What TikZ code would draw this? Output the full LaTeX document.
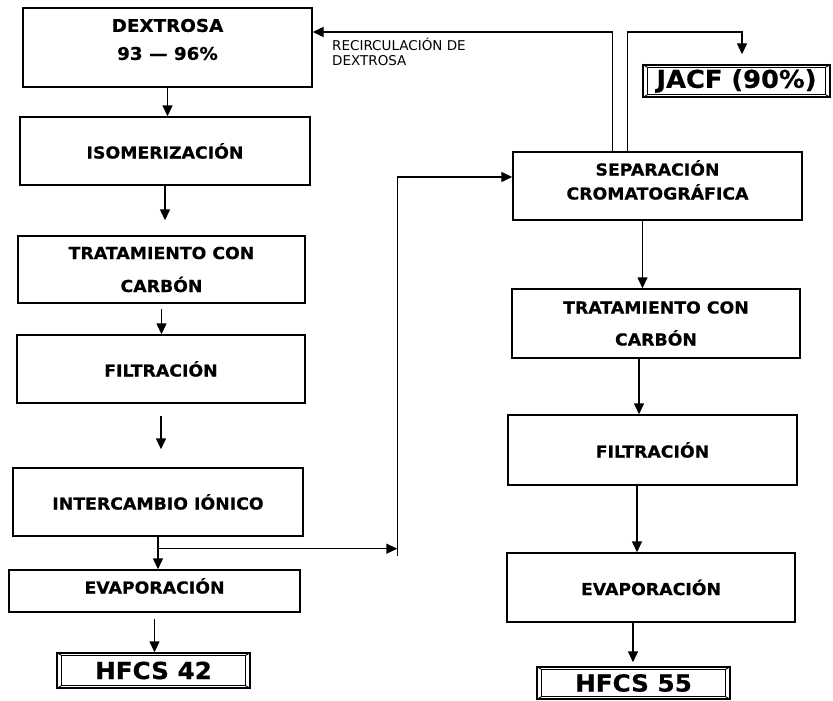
\documentclass[tikz,border=0pt]{standalone}
\usepackage{fontspec}
\setmainfont{DejaVu Sans}
\newfontfamily\heavy{DejaVu Sans Bold}[FakeBold=0.6,FakeStretch=1.05]
\usetikzlibrary{arrows.meta,calc}
\newcommand\dframe[1]{%
  \draw[line width=1.1pt] ([shift={(5,3)}]#1.north west) rectangle ([shift={(-5,-3)}]#1.south east);
  \draw[line width=0.9pt] (#1.north west) -- ([shift={(5,3)}]#1.north west)
    (#1.north east) -- ([shift={(-5,3)}]#1.north east)
    (#1.south west) -- ([shift={(5,-3)}]#1.south west)
    (#1.south east) -- ([shift={(-5,-3)}]#1.south east);}
\begin{document}
\begin{tikzpicture}[x=1pt,y=-1pt,
  box/.style={draw, line width=1.4pt, inner sep=0pt, align=center,
    font=\heavy\fontsize{16.5}{28}\selectfont},
  txt/.style={inner sep=0pt, align=center, font=\heavy\fontsize{16.5}{28}\selectfont},
  prod/.style={draw, line width=1.4pt, inner sep=0pt, align=center,
    font=\heavy\fontsize{23.5}{24}\selectfont},
  arr/.style={line width=1.4pt, -{Triangle[length=11pt,width=10pt]}},
  ln/.style={line width=1.4pt}]
\useasboundingbox (0,0) rectangle (833,701);
% left column
\node[box, minimum width=289pt, minimum height=79pt] (dex) at (167.5,47.5) {};
\node[txt, font=\heavy\fontsize{17.5}{28}\selectfont] (dexT) at ($(dex.center)+(0,-8)$) {DEXTROSA\\93 — 96\%};
\node[box, minimum width=290pt, minimum height=68pt] (iso) at (165,151) {ISOMERIZACIÓN};
\node[box, minimum width=287pt, minimum height=67pt, font=\heavy\fontsize{16.5}{33}\selectfont] (trat1) at (161.5,269.5) {TRATAMIENTO CON\\CARBÓN};
\node[box, minimum width=288pt, minimum height=68pt] (filt1) at (161,369) {FILTRACIÓN};
\node[box, minimum width=290pt, minimum height=68pt] (inter) at (158,502) {INTERCAMBIO IÓNICO};
\node[box, minimum width=291pt, minimum height=42pt] (evap1) at (154.5,591) {};
\node[txt] (evap1T) at ($(evap1.center)+(0,-5)$) {EVAPORACIÓN};
\node[prod, minimum width=193pt, minimum height=35pt] (h42) at (153.5,670.5) {HFCS 42};
\dframe{h42}
% right column
\node[box, minimum width=289pt, minimum height=68pt] (sep) at (657.5,186) {};
\node[txt, font=\heavy\fontsize{16.5}{24}\selectfont] (sepT) at ($(sep.center)+(0,-6)$) {SEPARACIÓN\\CROMATOGRÁFICA};
\node[box, minimum width=288pt, minimum height=69pt, font=\heavy\fontsize{16.5}{32}\selectfont] (trat2) at (656,323.5) {TRATAMIENTO CON\\CARBÓN};
\node[box, minimum width=289pt, minimum height=70pt] (filt2) at (652.5,450) {FILTRACIÓN};
\node[box, minimum width=288pt, minimum height=69pt] (evap2) at (651,587.5) {EVAPORACIÓN};
\node[prod, minimum width=193pt, minimum height=32pt] (h55) at (633.5,683) {HFCS 55};
\dframe{h55}
\node[prod, minimum width=187pt, minimum height=32pt, font=\heavy\fontsize{24.5}{26}\selectfont] (jacf) at (736.5,81) {JACF (90\%)};
\dframe{jacf}
% label
\node[anchor=north west, align=left, inner sep=0pt, font=\fontsize{13.5}{14.5}\selectfont] (lab) at (332,38) {RECIRCULACIÓN DE\\DEXTROSA};
% left arrows
\draw[arr] (dex.south) -- (dex.south |- iso.north);
\draw[arr, shorten >=15pt] (iso.south) -- (iso.south |- trat1.north);
\draw[arr, shorten <=5pt] (trat1.south) -- (trat1.south |- filt1.north);
\draw[arr, shorten <=12pt, shorten >=18pt] (filt1.south) -- (filt1.south |- inter.north);
\draw[arr] (inter.south) -- (inter.south |- evap1.north);
\draw[arr, shorten <=6pt] (evap1.south) -- (evap1.south |- h42.north);
% branch to separation
\coordinate (br) at ($(inter.south)+(0,12)$);
\coordinate (busT) at ($(sep.west)+(-115,-9)$);
\coordinate (busB) at (busT |- {$(br)+(0,7)$});
\draw[ln] (busB) -- (busT);
\draw[arr] (br) -- (br -| busT);
\draw[arr] (busT) -- (busT -| sep.west);
% right arrows
\draw[arr] ([xshift=-15pt]sep.south) -- ([xshift=-15pt]sep.south |- trat2.north);
\draw[arr] ([xshift=-17pt]trat2.south) -- ([xshift=-17pt]trat2.south |- filt2.north);
\draw[arr] ([xshift=-15.5pt]filt2.south) -- ([xshift=-15.5pt]filt2.south |- evap2.north);
\draw[arr, shorten >=4pt] ([xshift=-18pt]evap2.south) -- ([xshift=-18pt]evap2.south |- h55.north);
% recirculation and JACF
\coordinate (rc) at ($(dex.east)+(0,-15.5)$);
\coordinate (tl) at ($(sep.north west)+(100,0)$);
\coordinate (tr) at ($(sep.north west)+(115,0)$);
\coordinate (jt) at ($(jacf.north |- rc)+(5.5,0)$);
\draw[arr] (tl) |- (rc);
\draw[arr, shorten >=10pt] (tr) |- (jt) -- (jt |- jacf.north);
\end{tikzpicture}
\end{document}
